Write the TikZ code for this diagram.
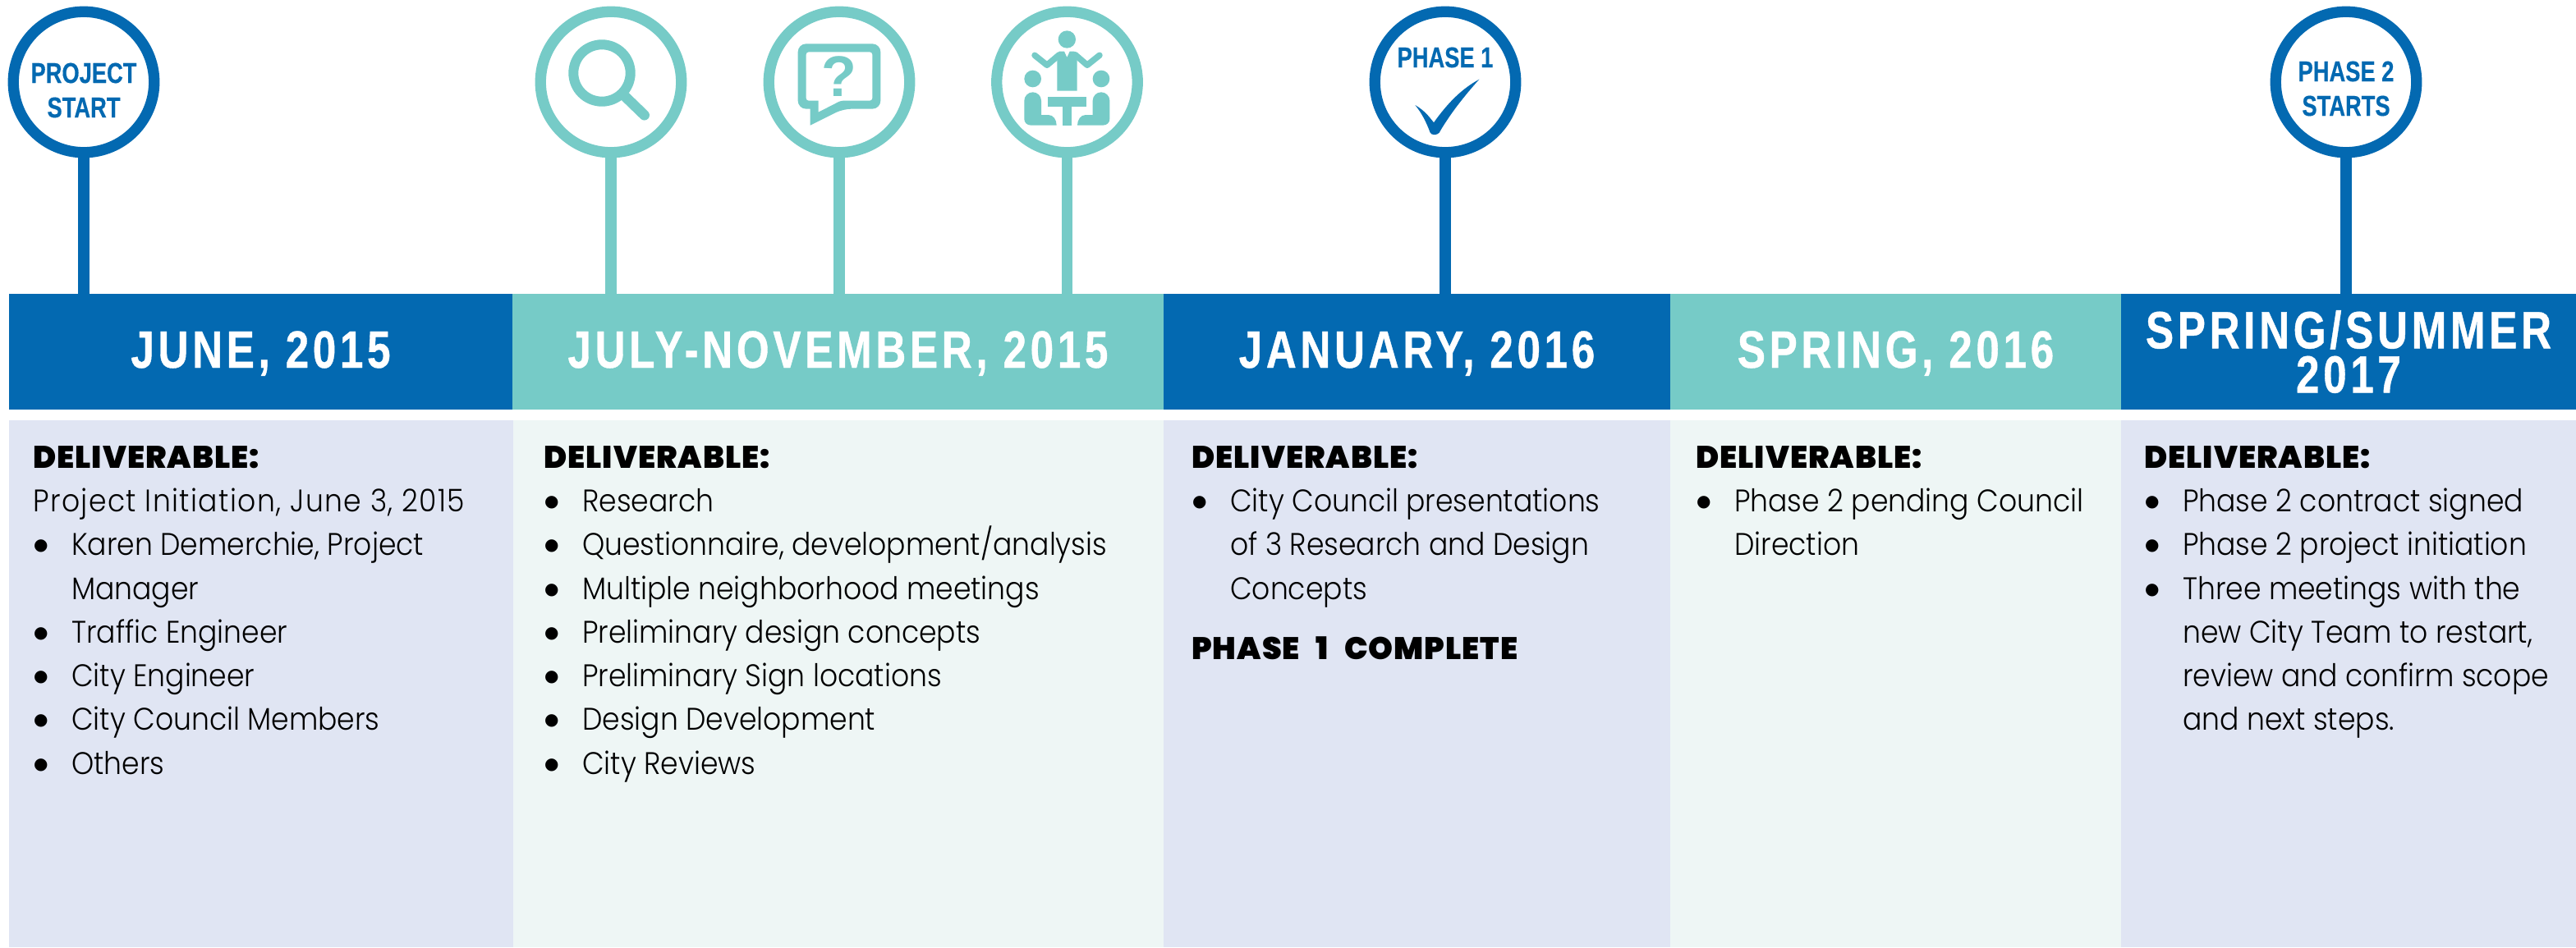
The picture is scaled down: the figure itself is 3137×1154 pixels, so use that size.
\documentclass[tikz,border=0pt]{standalone}
\usepackage{fontspec}
\usepackage{xcolor}
\usetikzlibrary{positioning}
\newfontfamily\headfont[FakeStretch=0.8,LetterSpace=7.3,FakeBold=0.6]{Liberation Sans Bold}
\newfontfamily\tagfont[FakeStretch=0.78,FakeBold=0.4]{Liberation Sans Bold}
\newfontfamily\bodyfont[FakeStretch=0.91,UprightFont=* Light]{Poppins}
\newfontfamily\boldfont[FakeStretch=1.0,LetterSpace=2.7]{Poppins Black}
\newfontfamily\dotfont{DejaVu Sans}
\definecolor{deepblue}{HTML}{0369B1}
\definecolor{seafoam}{HTML}{76CBC7}
\definecolor{paleblue}{HTML}{E0E5F3}
\definecolor{palemint}{HTML}{EEF6F5}
\newcommand{\blt}{\makebox[47pt][l]{\hspace*{1pt}\raisebox{6pt}{\dotfont\fontsize{20}{20}\selectfont ●}}}
\newcommand{\dlv}[1]{{\boldfont\fontsize{38}{53.3}\selectfont #1}}
\tikzset{
  ring/.style={circle,draw,line width=13.3pt,fill=white,minimum size=171.5pt,inner sep=0pt},
  stem/.style={line width=13.5pt},
  barbox/.style={rectangle,minimum height=141pt,inner sep=0pt,text=white,
    font=\headfont\fontsize{64}{54}\selectfont,text height=46pt,text depth=7pt},
  panel/.style={rectangle,minimum height=642pt,inner sep=0pt},
  ringtag/.style={align=center,text=deepblue,inner sep=0pt,font=\tagfont\fontsize{35}{42}\selectfont},
  bodytext/.style={anchor=north west,align=left,inner sep=0pt,font=\bodyfont\fontsize{38}{53.3}\selectfont}
}
\begin{document}
\begin{tikzpicture}[x=1pt,y=-1pt]
\useasboundingbox (0,0) rectangle (3137,1154);
\node[barbox,fill=deepblue,minimum width=613pt] (barA) at (317.5,428.5) {JUNE, 2015};
\node[barbox,fill=seafoam,minimum width=793pt] (barB) at (1020.5,428.5) {JULY-NOVEMBER, 2015};
\node[barbox,fill=deepblue,minimum width=617pt] (barC) at (1725.5,428.5) {JANUARY, 2016};
\node[barbox,fill=seafoam,minimum width=549pt] (barD) at (2308.5,428.5) {SPRING, 2016};
\node[barbox,fill=deepblue,minimum width=554pt,text height=,text depth=,align=center] (barE) at (2860,428.5) {SPRING/SUMMER\\2017};
\node[panel,fill=paleblue,minimum width=614pt] (panelA) at (318,833) {};
\node[panel,fill=palemint,minimum width=792pt] (panelB) at (1021,833) {};
\node[panel,fill=paleblue,minimum width=617pt] (panelC) at (1725.5,833) {};
\node[panel,fill=palemint,minimum width=549pt] (panelD) at (2308.5,833) {};
\node[panel,fill=paleblue,minimum width=554pt] (panelE) at (2860,833) {};
\foreach \name/\xpos/\col/\bar in {ringStart/102/deepblue/barA,ringSearch/744/seafoam/barB,ringAsk/1022/seafoam/barB,ringMeet/1299.5/seafoam/barB,ringOne/1760/deepblue/barC,ringTwo/2857/deepblue/barE}{
  \node[ring,draw=\col] (\name) at (\xpos,100) {};
  \draw[stem,\col] (\name) -- (\name |- \bar.north);
}
\node[ringtag] (tagStart) at (102,110) {PROJECT\\START};
\node[ringtag] (tagOne) at (1760,70) {PHASE 1};
\node[ringtag] (tagTwo) at (2857,108) {PHASE 2\\STARTS};
\draw[seafoam,line width=12pt] (733,89) circle (34.7);
\draw[seafoam,line width=12.5pt,line cap=round] (761.7,118) -- (784.7,140.3);
\begin{scope}[shift={(900,20)},scale=1/3]
\fill[seafoam,even odd rule] (260,338) [rounded corners=10pt] -- (215,338) -- (215,100) -- (517,100) -- (517,338) -- (380,338) [sharp corners] -- (260,398) -- cycle
  (290,308) [rounded corners=3pt] -- (245,308) -- (245,130) -- (487,130) -- (487,308) -- (372,308) [sharp corners] -- (290,350) -- cycle;
\node[text=seafoam,inner sep=0pt,font=\fontspec{Liberation Sans Bold}\fontsize{70}{70}\selectfont] (askMark) at (365,220) {?};
\end{scope}
\begin{scope}[shift={(1180,20)},scale=1/3]
\fill[seafoam] (358,84) circle (32);
\draw[seafoam,line width=7.5pt,line cap=round,line join=round] (240,142) -- (285,178) -- (330,140);
\draw[seafoam,line width=7.5pt,line cap=round,line join=round] (477,142) -- (432,178) -- (388,140);
\fill[seafoam] (322,272) -- (395,272) -- (395,150) -- (385,128) -- (368,128) -- (358,150) -- (348,128) -- (330,128) -- (322,150) -- cycle;
\fill[seafoam] (288,295) rectangle (428,330);
\fill[seafoam] (341,330) rectangle (375,398);
\fill[seafoam] (233,228) circle (31);
\fill[seafoam] (202,308) arc (180:360:31) -- (264,360) -- (290,360) .. controls (308,360) and (320,378) .. (320,398) -- (227,398) .. controls (212,398) and (202,388) .. (202,375) -- cycle;
\begin{scope}[shift={(716,0)},xscale=-1]
\fill[seafoam] (233,228) circle (31);
\fill[seafoam] (202,308) arc (180:360:31) -- (264,360) -- (290,360) .. controls (308,360) and (320,378) .. (320,398) -- (227,398) .. controls (212,398) and (202,388) .. (202,375) -- cycle;
\end{scope}
\end{scope}
\begin{scope}[shift={(1640,20)},scale=1/3]
\fill[deepblue] (250,324) .. controls (285,345) and (300,365) .. (318,388) .. controls (370,315) and (420,265) .. (484,230) .. controls (430,290) and (375,360) .. (338,425) .. controls (330,435) and (310,435) .. (305,425) .. controls (290,385) and (275,355) .. (250,324);
\end{scope}
\node[bodytext] (textA) at (40,543) {\dlv{DELIVERABLE:}\\{\addfontfeature{LetterSpace=3.7}Project Initiation, June 3, 2015}\\\blt Karen Demerchie, Project\\\hspace*{47pt}Manager\\\blt Traffic Engineer\\\blt City Engineer\\\blt City Council Members\\\blt Others};
\node[bodytext] (textB) at (662,543) {\dlv{DELIVERABLE:}\\\blt Research\\\blt Questionnaire, development/analysis\\\blt Multiple neighborhood meetings\\\blt Preliminary design concepts\\\blt Preliminary Sign locations\\\blt Design Development\\\blt City Reviews};
\node[bodytext] (textC) at (1451,543) {\dlv{DELIVERABLE:}\\\blt City Council presentations\\\hspace*{47pt}of 3 Research and Design\\\hspace*{47pt}Concepts\\[19.7pt]\dlv{PHASE\hspace{12pt} 1\hspace{12pt} COMPLETE}};
\node[bodytext] (textD) at (2065,543) {\dlv{DELIVERABLE:}\\\blt Phase 2 pending Council\\\hspace*{47pt}Direction};
\node[bodytext] (textE) at (2611,543) {\dlv{DELIVERABLE:}\\\blt Phase 2 contract signed\\\blt Phase 2 project initiation\\\blt Three meetings with the\\\hspace*{47pt}new City Team to restart,\\\hspace*{47pt}review and confirm scope\\\hspace*{47pt}and next steps.};
\end{tikzpicture}
\end{document}
